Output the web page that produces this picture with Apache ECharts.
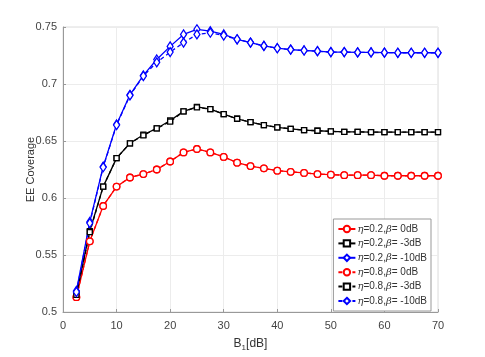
<!DOCTYPE html>
<html>
<head>
<meta charset="utf-8">
<script src="https://cdn.jsdelivr.net/npm/echarts@6/dist/echarts.min.js"></script>
<style>
  html, body { margin: 0; padding: 0; background: #fff; }
  #chart { width: 485px; height: 357px; }
</style>
</head>
<body>
<div id="chart"></div>
<script>
// B1 in dB
const b1 = [2.5, 5, 7.5, 10, 12.5, 15, 17.5, 20, 22.5, 25, 27.5, 30, 32.5, 35,
  37.5, 40, 42.5, 45, 47.5, 50, 52.5, 55, 57.5, 60, 62.5, 65, 67.5, 70];

const red02 = [0.513, 0.562, 0.593, 0.610, 0.618, 0.621, 0.625, 0.632, 0.640, 0.643,
  0.640, 0.636, 0.631, 0.628, 0.626, 0.624, 0.623, 0.622, 0.621, 0.6205,
  0.620, 0.620, 0.620, 0.6195, 0.6195, 0.6195, 0.6195, 0.6195];
const black02 = [0.516, 0.571, 0.610, 0.635, 0.648, 0.6555, 0.661, 0.668, 0.676, 0.680,
  0.678, 0.6735, 0.6695, 0.6665, 0.664, 0.662, 0.6607, 0.6595, 0.659, 0.6585,
  0.658, 0.658, 0.6578, 0.6577, 0.6577, 0.6577, 0.6577, 0.6577];
const blue02 = [0.5185, 0.579, 0.6275, 0.6645, 0.6905, 0.7075, 0.7215, 0.733, 0.7435, 0.748,
  0.7463, 0.7435, 0.7392, 0.7363, 0.7334, 0.7314, 0.7302, 0.7294, 0.7288, 0.728,
  0.728, 0.7277, 0.7277, 0.7275, 0.7274, 0.7274, 0.7274, 0.7274];
const red08 = [0.513, 0.562, 0.593, 0.610, 0.618, 0.621, 0.625, 0.632, 0.640, 0.643,
  0.640, 0.636, 0.631, 0.628, 0.626, 0.624, 0.623, 0.622, 0.621, 0.6205,
  0.620, 0.620, 0.620, 0.6195, 0.6195, 0.6195, 0.6195, 0.6195];
const black08 = [0.515, 0.570, 0.610, 0.635, 0.648, 0.655, 0.661, 0.667, 0.676, 0.6795,
  0.678, 0.6735, 0.6695, 0.6665, 0.664, 0.662, 0.6607, 0.6595, 0.659, 0.6585,
  0.658, 0.658, 0.6578, 0.6577, 0.6577, 0.6577, 0.6577, 0.6577];
const blue08 = [0.5175, 0.578, 0.627, 0.664, 0.690, 0.707, 0.719, 0.728, 0.7363, 0.7435,
  0.745, 0.7425, 0.7392, 0.7363, 0.7334, 0.7314, 0.7302, 0.7294, 0.7288, 0.728,
  0.728, 0.7277, 0.7277, 0.7275, 0.7274, 0.7274, 0.7274, 0.7274];

const yTicks = [0.5, 0.55, 0.6, 0.65, 0.7, 0.75];

const chart = echarts.init(document.getElementById('chart'));

function mk(name, data, color, symbol, size, dashed) {
  return {
    name: name,
    type: 'line',
    data: b1.map((x, i) => [x, data[i]]),
    symbol: symbol,
    symbolSize: size,
    showSymbol: true,
    itemStyle: { color: '#fff', borderColor: color, borderWidth: 1.3 },
    lineStyle: { color: color, width: 1.3, type: dashed ? [4, 3] : 'solid' },
    animation: false
  };
}

const diamond = 'path://M0,-1L0.66,0L0,1L-0.66,0Z';

const series = [
  mk('η=0.2,β= 0dB', red02, '#ff0000', 'circle', 6.5, false),
  mk('η=0.2,β= -3dB', black02, '#000000', 'rect', 5, false),
  mk('η=0.2,β= -10dB', blue02, '#0000ff', diamond, [6, 9], false),
  mk('η=0.8,β= 0dB', red08, '#ff0000', 'circle', 6.5, true),
  mk('η=0.8,β= -3dB', black08, '#000000', 'rect', 5, true),
  mk('η=0.8,β= -10dB', blue08, '#0000ff', diamond, [6, 9], true)
];

const option = {
  backgroundColor: '#fff',
  textStyle: { fontFamily: 'Liberation Sans, Arial, sans-serif' },
  grid: {
    left: 63, right: 47, top: 27, bottom: 39,
    show: true, borderColor: '#dcdcdc', borderWidth: 1
  },
  legend: {
    right: 54, top: 219,
    orient: 'vertical',
    itemWidth: 17, itemHeight: 8, itemGap: 4.4,
    backgroundColor: '#fff',
    borderColor: '#999', borderWidth: 1,
    padding: [5, 4, 5, 4],
    textStyle: {
      fontSize: 10, color: '#333', padding: [0, 0, 0, -3],
      rich: { i: { fontStyle: 'italic', fontSize: 10, fontFamily: 'DejaVu Serif', color: '#333' } }
    },
    formatter: name => name.replace('η', '{i|η}').replace('β', '{i|β}')
  },
  xAxis: {
    type: 'value',
    min: 0, max: 70, interval: 10,
    name: 'B{s|1}[dB]',
    nameLocation: 'middle',
    nameGap: 24,
    nameTextStyle: {
      fontSize: 12, color: '#333',
      rich: { s: { fontSize: 8, color: '#333', verticalAlign: 'bottom', padding: [8, 0, 0, 0] } }
    },
    axisLine: { show: true, lineStyle: { color: '#999' } },
    axisTick: { show: true, inside: true, length: 3, lineStyle: { color: '#999' } },
    axisLabel: { fontSize: 11, color: '#444', margin: 8 },
    splitLine: { show: true, lineStyle: { color: '#ececec' } }
  },
  yAxis: {
    type: 'value',
    min: 0.5, max: 0.75, interval: 0.05,
    name: 'EE Coverage',
    nameLocation: 'middle',
    nameGap: 27,
    nameMoveOverlap: false,
    nameTextStyle: { fontSize: 11, color: '#333' },
    axisLine: { show: true, lineStyle: { color: '#999' } },
    axisTick: { show: true, inside: true, length: 3, lineStyle: { color: '#999' } },
    axisLabel: {
      fontSize: 11, color: '#444', margin: 6,
      formatter: v => {
        const t = yTicks.find(k => Math.abs(k - v) < 1e-9);
        return t === undefined ? '' : String(t);
      }
    },
    splitLine: { show: true, lineStyle: { color: '#ececec' } }
  },
  series: series
};

chart.setOption(option);
</script>
</body>
</html>
